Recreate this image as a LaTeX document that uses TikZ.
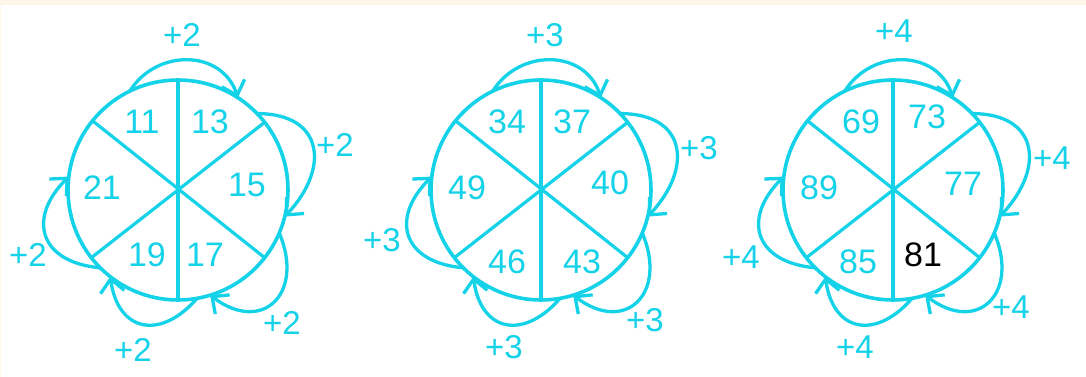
\documentclass[tikz,border=0pt]{standalone}
\usepackage{fontspec}
\setmainfont{Liberation Sans}
\usetikzlibrary{arrows.meta}
\definecolor{cy}{RGB}{20,210,232}
\definecolor{cream}{RGB}{255,246,233}
\begin{document}
\begin{tikzpicture}[x=1pt,y=1pt,
  ring/.style={circle,draw=cy,line width=3.6pt,minimum size=220pt,inner sep=0pt,outer sep=0pt},
  spoke/.style={draw=cy,line width=3.2pt},
  num/.style={text=cy,font=\fontsize{34}{34}\selectfont,inner sep=0pt},
  lab/.style={text=cy,font=\fontsize{33}{33}\selectfont,inner sep=0pt},
  arr/.style={draw=cy,line width=3.3pt,-{Straight Barb[length=13pt,width=24pt]}}]
\fill[white] (0,0) rectangle (1086,377);
\fill[cream] (0,372) rectangle (1086,377);
\fill[cream] (0,0) rectangle (1,377);
\useasboundingbox (0,0) rectangle (1086,377);
\foreach \c/\x in {A/178,B/541,C/893}{
  \node[ring] (\c) at (\x,187) {};
  \draw[spoke] (\c.90) -- (\c.270);
  \draw[spoke] (\c.38.5) -- (\c.218.5);
  \draw[spoke] (\c.141.5) -- (\c.-38.5);
  \draw[arr] (\c.116) to[out=58,in=108,looseness=1.2] (\c.57);
  \draw[arr] (\c.44) to[out=0,in=47,looseness=1.6] (\c.-14);
  \draw[arr] (\c.-23) to[out=-67,in=-37,looseness=1.8] (\c.-73);
  \draw[arr] (\c.-80) to[out=-131,in=-82,looseness=1.6] (\c.-128);
  \draw[arr] (\c.-135) to[out=175,in=-135,looseness=1.6] (\c.173);
}
% circle 1
\node[num] (a1) at ([shift={(-36,68)}]A) {11};
\node[num] (a2) at ([shift={(32,68)}]A) {13};
\node[num] (a3) at ([shift={(69,5)}]A) {15};
\node[num] (a4) at ([shift={(27,-65)}]A) {17};
\node[num] (a5) at ([shift={(-31,-65)}]A) {19};
\node[num] (a6) at ([shift={(-76,2)}]A) {21};
\node[lab] (la1) at ([shift={(4,155)}]A) {+2};
\node[lab] (la2) at ([shift={(157,45)}]A) {+2};
\node[lab] (la3) at ([shift={(104,-133)}]A) {+2};
\node[lab] (la4) at ([shift={(-45,-160)}]A) {+2};
\node[lab] (la5) at ([shift={(-150,-65)}]A) {+2};
% circle 2
\node[num] (b1) at ([shift={(-34,68)}]B) {34};
\node[num] (b2) at ([shift={(31,68)}]B) {37};
\node[num] (b3) at ([shift={(69,7)}]B) {40};
\node[num] (b4) at ([shift={(41,-72)}]B) {43};
\node[num] (b5) at ([shift={(-34,-72)}]B) {46};
\node[num] (b6) at ([shift={(-74,2)}]B) {49};
\node[lab] (lb1) at ([shift={(4,155)}]B) {+3};
\node[lab] (lb2) at ([shift={(158,42)}]B) {+3};
\node[lab] (lb3) at ([shift={(104,-130)}]B) {+3};
\node[lab] (lb4) at ([shift={(-37,-157)}]B) {+3};
\node[lab] (lb5) at ([shift={(-159,-50)}]B) {+3};
% circle 3
\node[num] (c1) at ([shift={(-32,68)}]C) {69};
\node[num] (c2) at ([shift={(34,73)}]C) {73};
\node[num] (c3) at ([shift={(70,6)}]C) {77};
\node[num,text=black] (c4) at ([shift={(30,-65)}]C) {81};
\node[num] (c5) at ([shift={(-35,-72)}]C) {85};
\node[num] (c6) at ([shift={(-74,2)}]C) {89};
\node[lab] (lc1) at ([shift={(1,159)}]C) {+4};
\node[lab] (lc2) at ([shift={(159,32)}]C) {+4};
\node[lab] (lc3) at ([shift={(118,-117)}]C) {+4};
\node[lab] (lc4) at ([shift={(-38,-157)}]C) {+4};
\node[lab] (lc5) at ([shift={(-152,-67)}]C) {+4};
\end{tikzpicture}
\end{document}
